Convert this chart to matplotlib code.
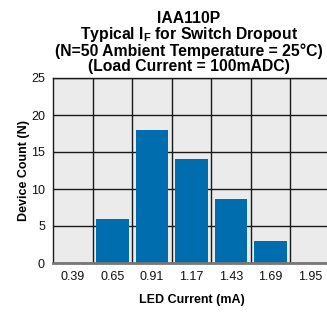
import matplotlib
matplotlib.use("Agg")
import matplotlib.pyplot as plt
import numpy as np

categories = ["0.39", "0.65", "0.91", "1.17", "1.43", "1.69", "1.95"]
counts = [0, 6, 18, 14, 8.7, 3, 0]
yticks = [0, 5, 10, 15, 20, 25]
title_lines = ["IAA110P",
               r"Typical I$_{\mathrm{F}}$ for Switch Dropout",
               "(N=50 Ambient Temperature = 25\u00b0C)",
               "(Load Current = 100mADC)"]

plt.rcParams['font.family'] = ['Liberation Sans', 'DejaVu Sans']
plt.rcParams['mathtext.fontset'] = 'custom'
plt.rcParams['mathtext.rm'] = 'Liberation Sans:bold'
plt.rcParams['mathtext.bf'] = 'Liberation Sans:bold'

W, H = 327, 312
fig = plt.figure(figsize=(W/100, H/100), dpi=100)
left, right, top, bottom = 53, 330, 78, 263
ax = fig.add_axes([left/W, 1 - bottom/H, (right-left)/W, (bottom-top)/H])
ax.set_facecolor('#ebebeb')

x = np.arange(len(categories))
ax.bar(x, counts, width=0.83, color='#006dae', zorder=3)

ax.set_xlim(-0.5, len(categories) - 0.5)
ax.set_ylim(0, 25)
ax.set_yticks(yticks)
ax.set_xticks(x)
ax.set_xticklabels(categories)
ax.set_xticks(x[:-1] + 0.5, minor=True)
ax.tick_params(axis='both', which='both', length=0, labelsize=9, colors='#111111')
ax.tick_params(axis='y', pad=5.8)
ax.tick_params(axis='x', pad=6)
ax.grid(axis='y', which='major', color='#1a1a1a', linewidth=1.0, zorder=1)
ax.grid(axis='x', which='minor', color='#1a1a1a', linewidth=1.0, zorder=1)
ax.grid(axis='x', which='major', visible=False)

for s in ['left', 'top']:
    ax.spines[s].set_color('#1a1a1a')
    ax.spines[s].set_linewidth(1.0)
ax.spines['right'].set_visible(False)
ax.spines['bottom'].set_color('#777777')
ax.spines['bottom'].set_linewidth(2.0)
ax.spines['bottom'].set_zorder(4)

ax.set_xlabel('LED Current (mA)', fontsize=9, fontweight='bold', labelpad=8)
ax.set_ylabel('Device Count (N)', fontsize=9, fontweight='bold', labelpad=1)

fig.text(189 / W, 1 - 70.5/H, "\n".join(title_lines), ha='center', va='baseline',
         ma='center', fontsize=11.3, fontweight='bold', linespacing=0.95)

fig.savefig('out.png', dpi=100)
